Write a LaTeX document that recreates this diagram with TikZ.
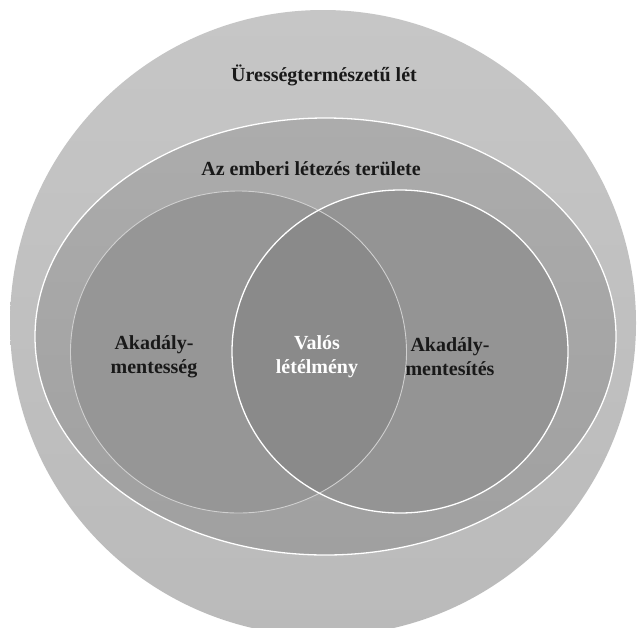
\documentclass[tikz,border=0pt]{standalone}
\usepackage{fontspec}
\setmainfont{Liberation Serif}
\definecolor{outerT}{RGB}{198,198,198}
\definecolor{outerB}{RGB}{186,186,186}
\definecolor{ellT}{RGB}{172,172,172}
\definecolor{ellB}{RGB}{160,160,160}
\definecolor{circL}{RGB}{150,150,150}
\definecolor{circR}{RGB}{148,148,148}
\definecolor{overlap}{RGB}{138,138,138}
\begin{document}
\begin{tikzpicture}[x=1pt,y=-1pt,
  lbl/.style={font=\bfseries\fontsize{20}{24}\selectfont, text=black!90, align=center},
  wlbl/.style={lbl, text=white}]
\useasboundingbox (0,0) rectangle (639,627);
\fill[white] (0,0) rectangle (639,627);
\begin{scope}
\clip (0,0) rectangle (639,627);
% outer circle
\shade[top color=outerT, bottom color=outerB] (323,323) circle[radius=313];
% ellipse
\shade[top color=ellT, bottom color=ellB] (325.5,336.5) ellipse[x radius=290.5, y radius=218.5];
\draw[white, line width=1.3pt] (325.5,336.5) ellipse[x radius=290.5, y radius=218.5];
% left circle
\fill[circL] (238.5,352) ellipse[x radius=168, y radius=161];
% right circle
\fill[circR] (400,351.5) ellipse[x radius=168, y radius=161.5];
% overlap
\begin{scope}
\clip (238.5,352) ellipse[x radius=168, y radius=161];
\fill[overlap] (400,351.5) ellipse[x radius=168, y radius=161.5];
\end{scope}
\draw[white!55!circL, line width=0.9pt] (238.5,352) ellipse[x radius=168, y radius=161];
\draw[white, line width=1.3pt] (400,351.5) ellipse[x radius=168, y radius=161.5];
\end{scope}
\node[lbl] (outer) at (324,75) {Ürességtermészetű lét};
\node[lbl] (human) at (311,169) {Az emberi létezés területe};
\node[lbl] (left) at (154,357) {Akadály-\\mentesség};
\node[wlbl] (mid) at (317,357) {Valós\\létélmény};
\node[lbl] (right) at (450,357) {Akadály-\\mentesítés};
\end{tikzpicture}
\end{document}
